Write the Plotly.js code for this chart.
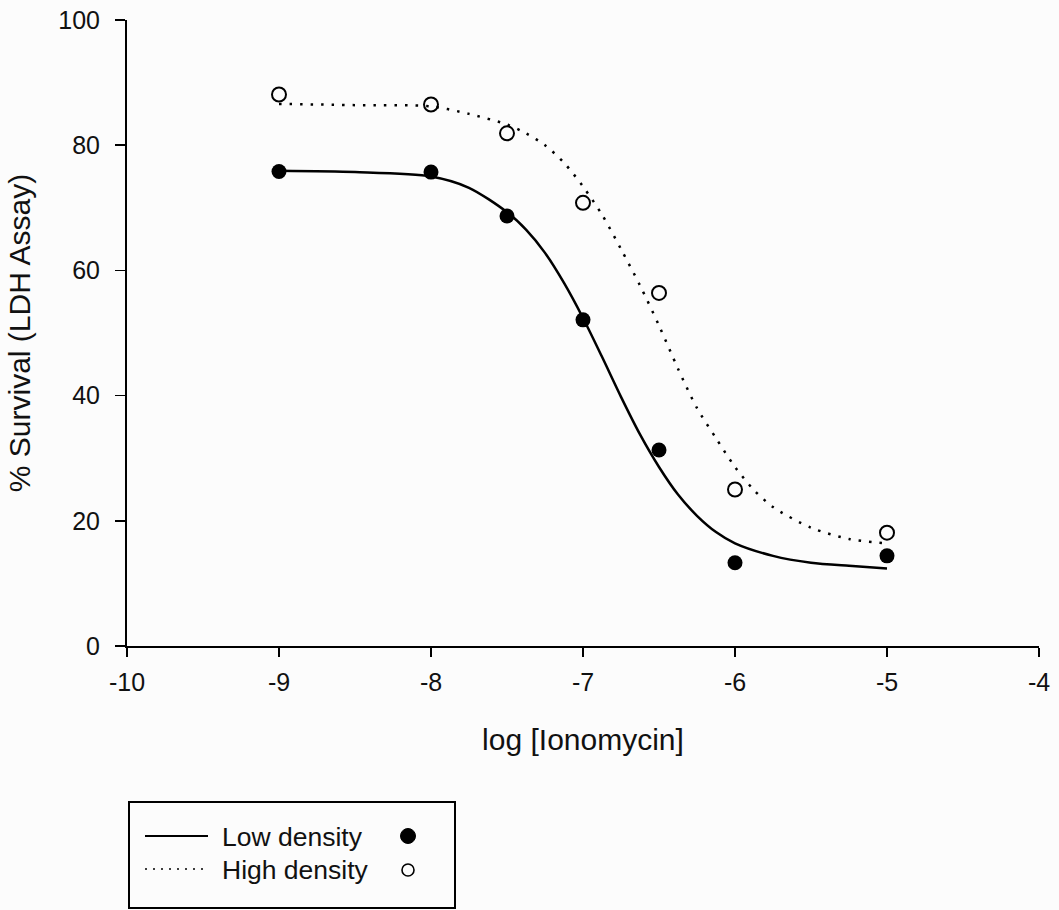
<!DOCTYPE html>
<html>
<head>
<meta charset="utf-8">
<script src="https://cdn.plot.ly/plotly-3.0.1.min.js"></script>
<style>
  html, body { margin: 0; padding: 0; background: #fcfcfc; }
  #chart { width: 1059px; height: 910px; }
</style>
</head>
<body>
<div id="chart"></div>
<script>
// ---- Data ----
const doseX = [-9, -8, -7.5, -7, -6.5, -6, -5];
const lowDensity = [75.8, 75.7, 68.7, 52.1, 31.3, 13.3, 14.4];
const highDensity = [88.1, 86.5, 81.9, 70.8, 56.4, 25.0, 18.1];

// fitted curves
const lowFitX = [-9, -8.5, -8, -7.75, -7.5, -7.375, -7.25, -7.125, -7, -6.875, -6.75, -6.625, -6.5, -6.375, -6.25, -6.125, -6, -5.75, -5.5, -5.25, -5];
const lowFitY = [75.9, 75.7, 75.0, 73.2, 69.3, 66.5, 62.8, 58.0, 52.4, 46.2, 39.8, 33.8, 28.6, 24.2, 20.8, 18.2, 16.4, 14.4, 13.3, 12.8, 12.4];
const highFitX = [-9, -8.5, -8, -7.75, -7.5, -7.375, -7.25, -7.125, -7, -6.875, -6.75, -6.625, -6.5, -6.375, -6.25, -6.125, -6, -5.875, -5.75, -5.5, -5.25, -5];
const highFitY = [86.6, 86.4, 86.2, 85.0, 83.3, 81.9, 80.0, 77.2, 73.4, 68.9, 63.4, 57.6, 51.2, 44.3, 38.0, 33.2, 28.6, 24.9, 22.2, 18.9, 17.1, 16.4];

const seriesNames = ['Low density', 'High density'];
const xTicks = [-10, -9, -8, -7, -6, -5, -4];
const yTicks = [0, 20, 40, 60, 80, 100];

// ---- Layout helpers (pixel -> paper) ----
const W = 1059, H = 910;
const L = 127, R = 1039, T = 20, B = 646;
const px = p => (p - L) / (R - L);
const py = p => (B - p) / (B - T);

const FONT = 'Liberation Sans, Arial, Helvetica, sans-serif';
const INK = '#111';

const traces = [
  { x: lowFitX, y: lowFitY, mode: 'lines', line: { color: '#000', width: 2.5, shape: 'spline', smoothing: 0.8 },
    hoverinfo: 'skip', showlegend: false, name: seriesNames[0] + ' fit' },
  { x: highFitX, y: highFitY, mode: 'lines', line: { color: '#000', width: 2.5, dash: '2.5px,8px', shape: 'spline', smoothing: 0.8 },
    hoverinfo: 'skip', showlegend: false, name: seriesNames[1] + ' fit' },
  { x: doseX, y: lowDensity, mode: 'markers', name: seriesNames[0], showlegend: false,
    marker: { symbol: 'circle', size: 15, color: '#000', line: { width: 0 } } },
  { x: doseX, y: highDensity, mode: 'markers', name: seriesNames[1], showlegend: false,
    marker: { symbol: 'circle-open', size: 14, color: '#000', line: { width: 2, color: '#000' } } }
];

// custom legend (box, line samples, text, markers) placed in paper coordinates
const shapes = [
  { type: 'rect', xref: 'paper', yref: 'paper', x0: px(129), x1: px(455), y0: py(908), y1: py(802),
    line: { color: '#000', width: 2 }, fillcolor: 'rgba(0,0,0,0)' },
  { type: 'line', xref: 'paper', yref: 'paper', x0: px(145), x1: px(208), y0: py(836), y1: py(836),
    line: { color: '#000', width: 2 } },
  { type: 'line', xref: 'paper', yref: 'paper', x0: px(145), x1: px(205), y0: py(869), y1: py(869),
    line: { color: '#000', width: 1.5, dash: '2px,6px' } },
  { type: 'circle', xref: 'paper', yref: 'paper', x0: px(400.5), x1: px(415.5), y0: py(843.5), y1: py(828.5),
    line: { color: '#000', width: 1 }, fillcolor: '#000' },
  { type: 'circle', xref: 'paper', yref: 'paper', x0: px(402), x1: px(414), y0: py(876), y1: py(864),
    line: { color: '#000', width: 1.6 }, fillcolor: 'rgba(0,0,0,0)' }
];

const annotations = [
  { xref: 'paper', yref: 'paper', x: px(220), y: py(837), xanchor: 'left', yanchor: 'middle',
    text: seriesNames[0], showarrow: false, font: { family: FONT, size: 26.5, color: INK } },
  { xref: 'paper', yref: 'paper', x: px(220), y: py(870), xanchor: 'left', yanchor: 'middle',
    text: seriesNames[1], showarrow: false, font: { family: FONT, size: 26.5, color: INK } }
];

const layout = {
  width: W, height: H,
  margin: { l: L, r: W - R, t: T, b: H - B, pad: 0 },
  paper_bgcolor: '#fcfcfc', plot_bgcolor: 'rgba(0,0,0,0)',
  showlegend: false,
  font: { family: FONT, color: INK },
  xaxis: {
    range: [-10, -4], tickvals: xTicks, ticktext: xTicks.map(String),
    showline: true, linecolor: '#000', linewidth: 2,
    ticks: 'outside', ticklen: 9, tickwidth: 1.5, tickcolor: '#000',
    ticklabelstandoff: 4,
    showgrid: false, zeroline: false, fixedrange: true,
    tickfont: { family: FONT, size: 25, color: INK },
    title: { text: 'log [Ionomycin]', font: { family: FONT, size: 30, color: INK }, standoff: 34 },
    automargin: false
  },
  yaxis: {
    range: [0, 100], tickvals: yTicks, ticktext: yTicks.map(String),
    showline: true, linecolor: '#000', linewidth: 2,
    ticks: 'outside', ticklen: 10, tickwidth: 1.5, tickcolor: '#000',
    ticklabelstandoff: 10,
    showgrid: false, zeroline: false, fixedrange: true,
    tickfont: { family: FONT, size: 25, color: INK },
    title: { text: '% Survival (LDH Assay)', font: { family: FONT, size: 30, color: INK }, standoff: 19 },
    automargin: false
  },
  shapes: shapes,
  annotations: annotations
};

Plotly.newPlot('chart', traces, layout, { displayModeBar: false, staticPlot: true });
</script>
</body>
</html>
